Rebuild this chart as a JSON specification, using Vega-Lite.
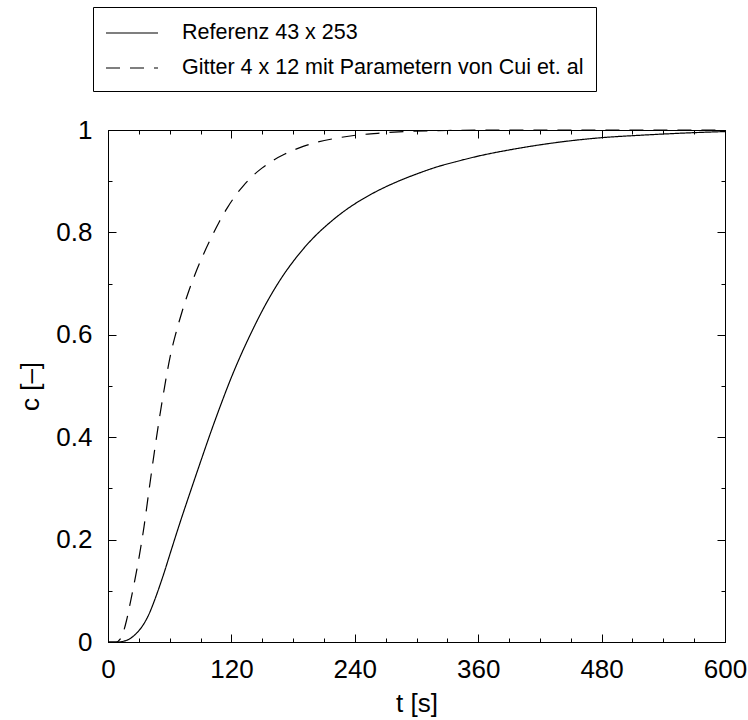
{
  "$schema": "https://vega.github.io/schema/vega-lite/v6.json",
  "width": 617,
  "height": 512,
  "autosize": {"type": "none"},
  "padding": {"left": 108, "top": 130, "right": 23, "bottom": 78},
  "background": "#ffffff",
  "config": {
    "view": {"stroke": "#000000", "strokeWidth": 1},
    "font": "Liberation Sans",
    "axis": {
      "grid": false,
      "domain": false,
      "labelFont": "Liberation Sans",
      "labelFontSize": 26,
      "labelColor": "#000000",
      "titleFont": "Liberation Sans",
      "titleFontSize": 26,
      "titleFontWeight": "normal",
      "titleColor": "#000000",
      "tickColor": "#000000",
      "tickWidth": 1
    }
  },
  "data": {
    "values": [
      {"t": 0, "c": 0, "s": "Referenz 43 x 253"},
      {"t": 10, "c": 0, "s": "Referenz 43 x 253"},
      {"t": 15, "c": 0.0015, "s": "Referenz 43 x 253"},
      {"t": 20, "c": 0.005, "s": "Referenz 43 x 253"},
      {"t": 25, "c": 0.012, "s": "Referenz 43 x 253"},
      {"t": 30, "c": 0.022, "s": "Referenz 43 x 253"},
      {"t": 35, "c": 0.036, "s": "Referenz 43 x 253"},
      {"t": 40, "c": 0.055, "s": "Referenz 43 x 253"},
      {"t": 45, "c": 0.08, "s": "Referenz 43 x 253"},
      {"t": 50, "c": 0.108, "s": "Referenz 43 x 253"},
      {"t": 55, "c": 0.138, "s": "Referenz 43 x 253"},
      {"t": 60, "c": 0.17, "s": "Referenz 43 x 253"},
      {"t": 70, "c": 0.233, "s": "Referenz 43 x 253"},
      {"t": 80, "c": 0.293, "s": "Referenz 43 x 253"},
      {"t": 90, "c": 0.352, "s": "Referenz 43 x 253"},
      {"t": 100, "c": 0.41, "s": "Referenz 43 x 253"},
      {"t": 110, "c": 0.465, "s": "Referenz 43 x 253"},
      {"t": 120, "c": 0.517, "s": "Referenz 43 x 253"},
      {"t": 130, "c": 0.564, "s": "Referenz 43 x 253"},
      {"t": 140, "c": 0.607, "s": "Referenz 43 x 253"},
      {"t": 150, "c": 0.647, "s": "Referenz 43 x 253"},
      {"t": 160, "c": 0.683, "s": "Referenz 43 x 253"},
      {"t": 170, "c": 0.715, "s": "Referenz 43 x 253"},
      {"t": 180, "c": 0.743, "s": "Referenz 43 x 253"},
      {"t": 190, "c": 0.768, "s": "Referenz 43 x 253"},
      {"t": 200, "c": 0.79, "s": "Referenz 43 x 253"},
      {"t": 215, "c": 0.818, "s": "Referenz 43 x 253"},
      {"t": 230, "c": 0.842, "s": "Referenz 43 x 253"},
      {"t": 245, "c": 0.862, "s": "Referenz 43 x 253"},
      {"t": 260, "c": 0.879, "s": "Referenz 43 x 253"},
      {"t": 280, "c": 0.898, "s": "Referenz 43 x 253"},
      {"t": 300, "c": 0.914, "s": "Referenz 43 x 253"},
      {"t": 320, "c": 0.928, "s": "Referenz 43 x 253"},
      {"t": 340, "c": 0.939, "s": "Referenz 43 x 253"},
      {"t": 360, "c": 0.949, "s": "Referenz 43 x 253"},
      {"t": 390, "c": 0.961, "s": "Referenz 43 x 253"},
      {"t": 420, "c": 0.971, "s": "Referenz 43 x 253"},
      {"t": 450, "c": 0.979, "s": "Referenz 43 x 253"},
      {"t": 480, "c": 0.985, "s": "Referenz 43 x 253"},
      {"t": 520, "c": 0.99, "s": "Referenz 43 x 253"},
      {"t": 560, "c": 0.994, "s": "Referenz 43 x 253"},
      {"t": 600, "c": 0.997, "s": "Referenz 43 x 253"},
      {"t": 0, "c": 0, "s": "Gitter 4 x 12 mit Parametern von Cui et. al"},
      {"t": 8, "c": 0, "s": "Gitter 4 x 12 mit Parametern von Cui et. al"},
      {"t": 12, "c": 0.006, "s": "Gitter 4 x 12 mit Parametern von Cui et. al"},
      {"t": 15, "c": 0.02, "s": "Gitter 4 x 12 mit Parametern von Cui et. al"},
      {"t": 18, "c": 0.042, "s": "Gitter 4 x 12 mit Parametern von Cui et. al"},
      {"t": 22, "c": 0.08, "s": "Gitter 4 x 12 mit Parametern von Cui et. al"},
      {"t": 26, "c": 0.12, "s": "Gitter 4 x 12 mit Parametern von Cui et. al"},
      {"t": 30, "c": 0.163, "s": "Gitter 4 x 12 mit Parametern von Cui et. al"},
      {"t": 35, "c": 0.225, "s": "Gitter 4 x 12 mit Parametern von Cui et. al"},
      {"t": 40, "c": 0.298, "s": "Gitter 4 x 12 mit Parametern von Cui et. al"},
      {"t": 45, "c": 0.37, "s": "Gitter 4 x 12 mit Parametern von Cui et. al"},
      {"t": 50, "c": 0.437, "s": "Gitter 4 x 12 mit Parametern von Cui et. al"},
      {"t": 55, "c": 0.498, "s": "Gitter 4 x 12 mit Parametern von Cui et. al"},
      {"t": 60, "c": 0.553, "s": "Gitter 4 x 12 mit Parametern von Cui et. al"},
      {"t": 66, "c": 0.603, "s": "Gitter 4 x 12 mit Parametern von Cui et. al"},
      {"t": 72, "c": 0.645, "s": "Gitter 4 x 12 mit Parametern von Cui et. al"},
      {"t": 79, "c": 0.688, "s": "Gitter 4 x 12 mit Parametern von Cui et. al"},
      {"t": 86, "c": 0.725, "s": "Gitter 4 x 12 mit Parametern von Cui et. al"},
      {"t": 93, "c": 0.758, "s": "Gitter 4 x 12 mit Parametern von Cui et. al"},
      {"t": 100, "c": 0.788, "s": "Gitter 4 x 12 mit Parametern von Cui et. al"},
      {"t": 108, "c": 0.82, "s": "Gitter 4 x 12 mit Parametern von Cui et. al"},
      {"t": 116, "c": 0.848, "s": "Gitter 4 x 12 mit Parametern von Cui et. al"},
      {"t": 124, "c": 0.872, "s": "Gitter 4 x 12 mit Parametern von Cui et. al"},
      {"t": 132, "c": 0.892, "s": "Gitter 4 x 12 mit Parametern von Cui et. al"},
      {"t": 140, "c": 0.909, "s": "Gitter 4 x 12 mit Parametern von Cui et. al"},
      {"t": 150, "c": 0.926, "s": "Gitter 4 x 12 mit Parametern von Cui et. al"},
      {"t": 160, "c": 0.94, "s": "Gitter 4 x 12 mit Parametern von Cui et. al"},
      {"t": 172, "c": 0.953, "s": "Gitter 4 x 12 mit Parametern von Cui et. al"},
      {"t": 186, "c": 0.965, "s": "Gitter 4 x 12 mit Parametern von Cui et. al"},
      {"t": 203, "c": 0.976, "s": "Gitter 4 x 12 mit Parametern von Cui et. al"},
      {"t": 222, "c": 0.984, "s": "Gitter 4 x 12 mit Parametern von Cui et. al"},
      {"t": 242, "c": 0.99, "s": "Gitter 4 x 12 mit Parametern von Cui et. al"},
      {"t": 265, "c": 0.994, "s": "Gitter 4 x 12 mit Parametern von Cui et. al"},
      {"t": 290, "c": 0.997, "s": "Gitter 4 x 12 mit Parametern von Cui et. al"},
      {"t": 330, "c": 0.999, "s": "Gitter 4 x 12 mit Parametern von Cui et. al"},
      {"t": 400, "c": 1.0, "s": "Gitter 4 x 12 mit Parametern von Cui et. al"},
      {"t": 500, "c": 1.0, "s": "Gitter 4 x 12 mit Parametern von Cui et. al"},
      {"t": 600, "c": 1.0, "s": "Gitter 4 x 12 mit Parametern von Cui et. al"}
    ]
  },
  "layer": [
    {
      "mark": {"type": "point", "opacity": 0},
      "encoding": {
        "x": {"field": "t", "type": "quantitative", "scale": {"domain": [0, 600], "nice": false, "zero": false},
          "axis": {"orient": "bottom", "values": [0, 30, 60, 90, 120, 150, 180, 210, 240, 270, 300, 330, 360, 390, 420, 450, 480, 510, 540, 570, 600], "labels": false, "ticks": true, "tickSize": -4, "title": null}},
        "y": {"field": "c", "type": "quantitative", "scale": {"domain": [0, 1], "nice": false, "zero": false},
          "axis": {"orient": "left", "values": [0, 0.1, 0.2, 0.3, 0.4, 0.5, 0.6, 0.7, 0.8, 0.9, 1], "labels": false, "ticks": true, "tickSize": -4, "title": null}}
      }
    },
    {
      "mark": {"type": "point", "opacity": 0},
      "encoding": {
        "x": {"field": "t", "type": "quantitative",
          "axis": {"orient": "bottom", "values": [0, 120, 240, 360, 480, 600], "labels": false, "ticks": true, "tickSize": -8, "title": null}},
        "y": {"field": "c", "type": "quantitative",
          "axis": {"orient": "left", "values": [0, 0.2, 0.4, 0.6, 0.8, 1], "labels": false, "ticks": true, "tickSize": -8, "title": null}}
      }
    },
    {
      "mark": {"type": "point", "opacity": 0},
      "encoding": {
        "x": {"field": "t", "type": "quantitative",
          "axis": {"orient": "top", "values": [0, 30, 60, 90, 120, 150, 180, 210, 240, 270, 300, 330, 360, 390, 420, 450, 480, 510, 540, 570, 600], "labels": false, "ticks": true, "tickSize": -4, "title": null}},
        "y": {"field": "c", "type": "quantitative",
          "axis": {"orient": "right", "values": [0, 0.1, 0.2, 0.3, 0.4, 0.5, 0.6, 0.7, 0.8, 0.9, 1], "labels": false, "ticks": true, "tickSize": -4, "title": null}}
      }
    },
    {
      "mark": {"type": "point", "opacity": 0},
      "encoding": {
        "x": {"field": "t", "type": "quantitative",
          "axis": {"orient": "top", "values": [0, 120, 240, 360, 480, 600], "labels": false, "ticks": true, "tickSize": -8, "title": null}},
        "y": {"field": "c", "type": "quantitative",
          "axis": {"orient": "right", "values": [0, 0.2, 0.4, 0.6, 0.8, 1], "labels": false, "ticks": true, "tickSize": -8, "title": null}}
      }
    },
    {
      "mark": {"type": "line", "color": "#000000", "strokeWidth": 1.2, "interpolate": "monotone"},
      "encoding": {
        "x": {"field": "t", "type": "quantitative",
          "axis": {"orient": "bottom", "values": [0, 120, 240, 360, 480, 600], "ticks": false, "labelPadding": 14, "labelFlush": false, "labelOverlap": false, "title": "t [s]", "titlePadding": 8}},
        "y": {"field": "c", "type": "quantitative",
          "axis": {"orient": "left", "values": [0, 0.2, 0.4, 0.6, 0.8, 1], "format": "~g", "ticks": false, "labelPadding": 16, "labelFlush": false, "labelOverlap": false, "title": "c [–]", "titlePadding": 12}},
        "strokeDash": {
          "field": "s", "type": "nominal",
          "scale": {"domain": ["Referenz 43 x 253", "Gitter 4 x 12 mit Parametern von Cui et. al"], "range": [[1, 0], [14, 10]]},
          "legend": {
            "orient": "none", "legendX": -15, "legendY": -123, "title": null,
            "strokeColor": "#000000", "padding": 12, "fillColor": "#ffffff",
            "symbolType": "M-1,0H3", "symbolSize": 676, "symbolStrokeWidth": 1.2, "symbolStrokeColor": "#000000",
            "labelFont": "Liberation Sans", "labelFontSize": 21.5, "labelColor": "#000000", "labelOffset": 49, "labelLimit": 700,
            "rowPadding": 10
          }
        }
      }
    }
  ],
  "resolve": {"axis": {"x": "independent", "y": "independent"}}
}
